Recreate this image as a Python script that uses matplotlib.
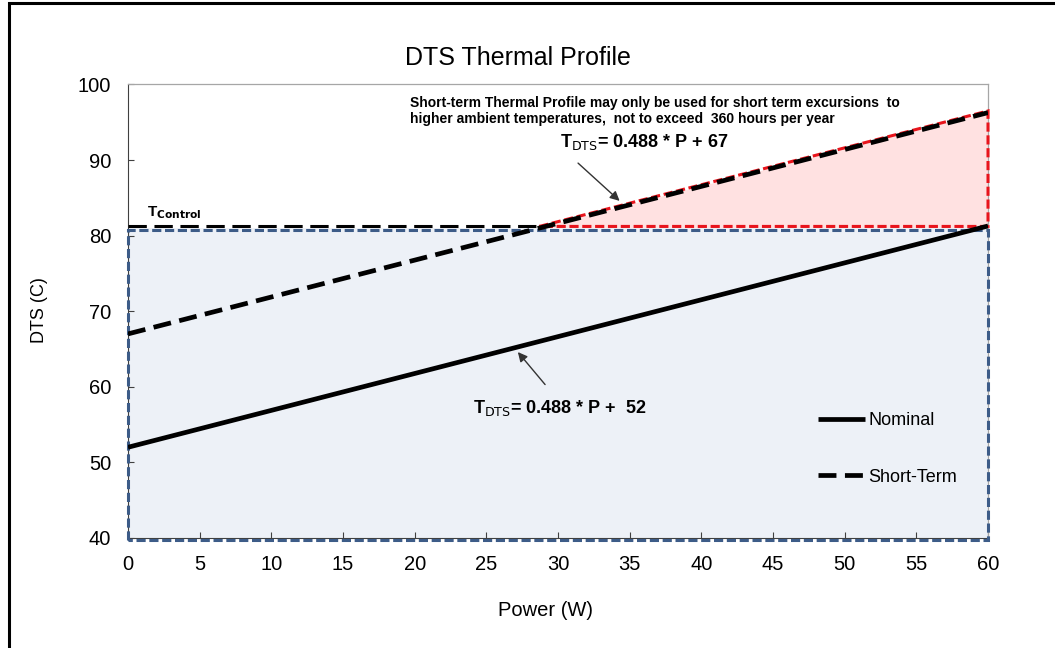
import matplotlib
matplotlib.use("Agg")
import matplotlib.pyplot as plt
import matplotlib.transforms as mtransforms
from matplotlib.patches import Rectangle, Polygon

plt.rcParams["font.family"] = ["Liberation Sans", "DejaVu Sans"]

# profile end points (P in W, DTS in C)
power = [0, 60]
nominal_dts = [52.0, 81.28]
short_term_dts = [67.0, 96.28]
t_control = 81
crossover_power = 28.7

x_ticks = list(range(0, 61, 5))
y_ticks = list(range(40, 101, 10))

fig = plt.figure(figsize=(10.55, 6.48), dpi=100)
ax = fig.add_axes([0.1213, 0.1698, 0.8152, 0.6998])

# outer frame of the slide
fig.patches.append(Rectangle((9 / 1055, -0.1), 1.2, 1.1 - 3 / 648, transform=fig.transFigure,
                             fill=False, edgecolor="black", linewidth=2.2, zorder=10))

dash = (0, (3, 1.2))
# nudge the two outlines apart so both stay visible along T_control
down = ax.transData + mtransforms.ScaledTranslation(0, -1.2 / 72, fig.dpi_scale_trans)
up = ax.transData + mtransforms.ScaledTranslation(0, 1.2 / 72, fig.dpi_scale_trans)

# allowed region below T_control
blue_box = [(0, 40), (0, t_control), (60, t_control), (60, 40)]
ax.add_patch(Polygon(blue_box, closed=True, facecolor="#edf1f7", edgecolor="none", zorder=1))
ax.add_patch(Polygon(blue_box, closed=True, fill=False, edgecolor="#3d5c88", transform=down,
                     linestyle=dash, linewidth=2.2, clip_on=False, zorder=3))

# short-term excursion region
red_tri = [(crossover_power, t_control), (power[1], short_term_dts[1]), (power[1], t_control)]
ax.add_patch(Polygon(red_tri, closed=True, facecolor="#ffe1e1", edgecolor="none", zorder=1.5))
ax.add_patch(Polygon(red_tri, closed=True, fill=False, edgecolor="#e8141c", transform=up,
                     linestyle=dash, linewidth=2.2, clip_on=False, zorder=3.2))

ax.plot([0, crossover_power], [t_control, t_control], color="black", transform=up,
        linestyle=(0, (6, 2.5)), linewidth=2.2, zorder=3.5)

ax.plot(power, nominal_dts, color="black", linewidth=3.4, label="Nominal", zorder=4,
        solid_capstyle="butt")
ax.plot(power, short_term_dts, color="black", linewidth=3.4, linestyle=(0, (3.8, 1.8)),
        label="Short-Term", zorder=4)

ax.set_xlim(0, 60)
ax.set_ylim(40, 100)
ax.set_xticks(x_ticks)
ax.set_yticks(y_ticks)
ax.tick_params(direction="in", length=4, color="#404040", labelsize=14.5)
ax.tick_params(axis="x", pad=12)
ax.tick_params(axis="y", pad=12)
for side in ["top", "right"]:
    ax.spines[side].set_color("#a6a6a6")
    ax.spines[side].set_linewidth(0.9)
ax.spines["left"].set_color("#404040")
ax.spines["bottom"].set_color("#404040")

fig.text(518 / 1055, 1 - 58 / 648, "DTS Thermal Profile", fontsize=18, ha="center", va="center")
fig.text(545 / 1055, 1 - 611 / 648, "Power (W)", fontsize=14.5, ha="center", va="center")
fig.text(40 / 1055, 1 - 310 / 648, "DTS (C)", fontsize=13, ha="center", va="center", rotation=90)

ax.text(19.67, 98.5, "Short-term Thermal Profile may only be used for short term excursions  to\n"
        "higher ambient temperatures,  not to exceed  360 hours per year",
        fontsize=10, fontweight="bold", va="top", ha="left", linespacing=1.2)

ax.text(1.3, 82.6, r"T$_{\mathbf{Control}}$", fontsize=11, fontweight="bold")

ax.text(30.14, 92.4, r"T$_{\mathrm{DTS}}$= 0.488 * P + 67", fontsize=13, fontweight="bold",
        va="center", ha="left")
ax.annotate("", xy=(34.3, 84.6), xytext=(31.4, 89.6),
            arrowprops=dict(arrowstyle="-|>", color="#333333", lw=1, mutation_scale=14,
                            shrinkA=0, shrinkB=0))

ax.text(24.07, 57.25, r"T$_{\mathrm{DTS}}$= 0.488 * P +  52", fontsize=13, fontweight="bold",
        va="center", ha="left")
ax.annotate("", xy=(27.2, 64.6), xytext=(29.1, 60.3),
            arrowprops=dict(arrowstyle="-|>", color="#333333", lw=1, mutation_scale=14,
                            shrinkA=0, shrinkB=0))

ax.legend(loc="upper left", bbox_to_anchor=(818 / 1055, 1 - 412 / 648), bbox_transform=fig.transFigure,
          frameon=False, fontsize=13, handlelength=2.6, handletextpad=0.2, labelspacing=2.2,
          borderpad=0, borderaxespad=0)

fig.savefig("out.png", dpi=100)
